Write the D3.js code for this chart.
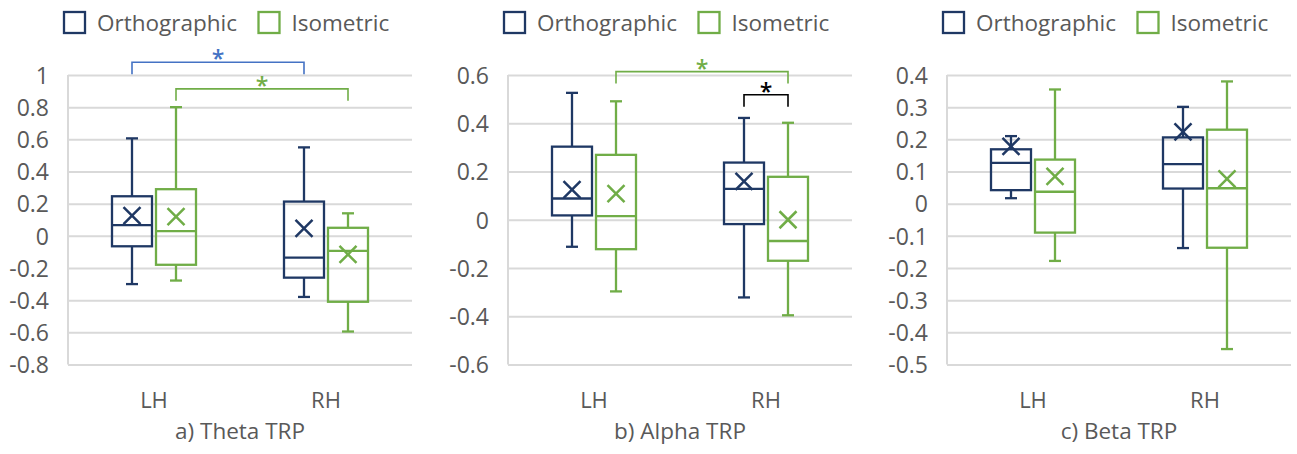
<!DOCTYPE html>
<html>
<head>
<meta charset="utf-8">
<script src="https://cdn.jsdelivr.net/npm/d3@7"></script>
<style>
  html, body { margin: 0; padding: 0; background: #ffffff; }
  svg { display: block; font-family: "Open Sans", "Noto Sans", sans-serif; }
</style>
</head>
<body>
<svg id="chart" width="1297" height="454"></svg>
<script>
// Categories and series shared by all three panels
const categories = ["LH", "RH"];
const seriesNames = ["Orthographic", "Isometric"];

// Box summaries per category (LH, RH): whiskers, quartiles, median and mean
const thetaOrthographic = [
  { low: -0.30, q1: -0.065, median: 0.066, q3: 0.246, high: 0.606, mean: 0.126 },
  { low: -0.38, q1: -0.26, median: -0.135, q3: 0.213, high: 0.55, mean: 0.047 }
];
const thetaIsometric = [
  { low: -0.278, q1: -0.18, median: 0.029, q3: 0.29, high: 0.80, mean: 0.12 },
  { low: -0.595, q1: -0.41, median: -0.093, q3: 0.05, high: 0.14, mean: -0.116 }
];
const alphaOrthographic = [
  { low: -0.112, q1: 0.018, median: 0.088, q3: 0.303, high: 0.526, mean: 0.125 },
  { low: -0.322, q1: -0.018, median: 0.128, q3: 0.237, high: 0.422, mean: 0.159 }
];
const alphaIsometric = [
  { low: -0.297, q1: -0.122, median: 0.015, q3: 0.269, high: 0.491, mean: 0.108 },
  { low: -0.396, q1: -0.17, median: -0.088, q3: 0.178, high: 0.402, mean: 0.0 }
];
const betaOrthographic = [
  { low: 0.017, q1: 0.042, median: 0.127, q3: 0.169, high: 0.21, mean: 0.178 },
  { low: -0.138, q1: 0.047, median: 0.123, q3: 0.206, high: 0.301, mean: 0.223 }
];
const betaIsometric = [
  { low: -0.178, q1: -0.09, median: 0.037, q3: 0.137, high: 0.355, mean: 0.085 },
  { low: -0.452, q1: -0.137, median: 0.048, q3: 0.23, high: 0.38, mean: 0.077 }
];

// Y-axis tick values
const thetaTicks = [-0.8, -0.6, -0.4, -0.2, 0, 0.2, 0.4, 0.6, 0.8, 1];
const alphaTicks = [-0.6, -0.4, -0.2, 0, 0.2, 0.4, 0.6];
const betaTicks = [-0.5, -0.4, -0.3, -0.2, -0.1, 0, 0.1, 0.2, 0.3, 0.4];

// Significance brackets: endpoints (category, series) and bracket height in data units
const thetaBrackets = [
  { from: ["LH", "Orthographic"], to: ["RH", "Orthographic"], level: 1.079, kind: "Orthographic" },
  { from: ["LH", "Isometric"], to: ["RH", "Isometric"], level: 0.914, kind: "Isometric" }
];
const alphaBrackets = [
  { from: ["LH", "Isometric"], to: ["RH", "Isometric"], level: 0.614, kind: "Isometric" },
  { from: ["RH", "Orthographic"], to: ["RH", "Isometric"], level: 0.518, kind: "between" }
];
const betaBrackets = [];

const panelTitles = ["a) Theta TRP", "b) Alpha TRP", "c) Beta TRP"];

// ---- styling / layout ----
const seriesColor = { Orthographic: "#1F3864", Isometric: "#70AD47" };
const bracketColor = { Orthographic: "#4472C4", Isometric: "#70AD47", between: "#000000" };
const textColor = "#595959";
const gridColor = "#D9D9D9";

const plotLefts = [68, 508, 947];
const plotWidth = 344;
const plotTop = 75;
const plotBottom = 364.5;

const panels = [
  { title: panelTitles[0], data: { Orthographic: thetaOrthographic, Isometric: thetaIsometric }, ticks: thetaTicks, brackets: thetaBrackets },
  { title: panelTitles[1], data: { Orthographic: alphaOrthographic, Isometric: alphaIsometric }, ticks: alphaTicks, brackets: alphaBrackets },
  { title: panelTitles[2], data: { Orthographic: betaOrthographic, Isometric: betaIsometric }, ticks: betaTicks, brackets: betaBrackets }
];

const fmt = v => String(+v.toFixed(1));
const svg = d3.select("#chart");

panels.forEach((p, i) => {
  const left = plotLefts[i];
  const right = left + plotWidth;
  const cx = (left + right) / 2;
  const g = svg.append("g");

  const y = d3.scaleLinear()
    .domain([d3.min(p.ticks), d3.max(p.ticks)])
    .range([plotBottom, plotTop]);
  const x = d3.scaleBand().domain(categories).range([left, right]);
  const xs = d3.scaleBand().domain(seriesNames).range([-42, 42]).paddingInner(4 / 44);

  // Gridlines and tick labels
  const yAxis = g.append("g")
    .attr("transform", `translate(${left},0)`)
    .call(d3.axisLeft(y).tickValues(p.ticks).tickSize(-plotWidth).tickPadding(19).tickFormat(fmt));
  yAxis.select(".domain").remove();
  yAxis.selectAll(".tick line").attr("stroke", gridColor).attr("stroke-width", 2);
  yAxis.selectAll(".tick text")
    .attr("fill", textColor).attr("font-size", 23).attr("font-family", "Open Sans")
    .attr("dy", "0.36em");
  // left axis line
  g.append("line")
    .attr("x1", left).attr("x2", left).attr("y1", plotTop).attr("y2", plotBottom)
    .attr("stroke", gridColor).attr("stroke-width", 2);

  // Category labels
  const xAxis = g.append("g")
    .attr("transform", `translate(0,${plotBottom})`)
    .call(d3.axisBottom(x).tickSize(0).tickPadding(28));
  xAxis.select(".domain").remove();
  xAxis.selectAll(".tick text")
    .attr("fill", textColor).attr("font-size", 22).attr("font-family", "Open Sans");

  // Panel title
  g.append("text")
    .attr("x", cx).attr("y", 439)
    .attr("text-anchor", "middle")
    .attr("fill", textColor).attr("font-size", 22.5)
    .text(p.title);

  // Box plots
  const boxW = xs.bandwidth();
  const capW = 12;
  const xMark = 8.5;
  seriesNames.forEach(s => {
    const col = seriesColor[s];
    p.data[s].forEach((d, ci) => {
      const bx = x(categories[ci]) + x.bandwidth() / 2 + xs(s);
      const mx = bx + boxW / 2;
      const bg = g.append("g").attr("stroke", col).attr("stroke-width", 2.3).attr("fill", "none");
      // whiskers
      bg.append("line").attr("x1", mx).attr("x2", mx).attr("y1", y(d.high)).attr("y2", y(d.q3));
      bg.append("line").attr("x1", mx).attr("x2", mx).attr("y1", y(d.q1)).attr("y2", y(d.low));
      bg.append("line").attr("x1", mx - capW / 2).attr("x2", mx + capW / 2).attr("y1", y(d.high)).attr("y2", y(d.high));
      bg.append("line").attr("x1", mx - capW / 2).attr("x2", mx + capW / 2).attr("y1", y(d.low)).attr("y2", y(d.low));
      // box
      bg.append("rect").attr("x", bx).attr("y", y(d.q3))
        .attr("width", boxW).attr("height", y(d.q1) - y(d.q3));
      // median
      bg.append("line").attr("x1", bx).attr("x2", bx + boxW).attr("y1", y(d.median)).attr("y2", y(d.median));
      // mean marker
      const my = y(d.mean);
      bg.append("path")
        .attr("stroke-width", 2.5)
        .attr("d", `M${mx - xMark},${my - xMark}L${mx + xMark},${my + xMark}M${mx - xMark},${my + xMark}L${mx + xMark},${my - xMark}`);
    });
  });

  // Significance brackets
  const legLen = 12;
  p.brackets.forEach(b => {
    const x1 = x(b.from[0]) + x.bandwidth() / 2 + xs(b.from[1]) + boxW / 2;
    const x2 = x(b.to[0]) + x.bandwidth() / 2 + xs(b.to[1]) + boxW / 2;
    const yt = y(b.level);
    const col = bracketColor[b.kind];
    g.append("path")
      .attr("fill", "none").attr("stroke", col).attr("stroke-width", 1.6)
      .attr("d", `M${x1},${yt + legLen}V${yt}H${x2}V${yt + legLen}`);
    g.append("text")
      .attr("x", (x1 + x2) / 2).attr("y", yt + 5)
      .attr("text-anchor", "middle")
      .attr("fill", col).attr("font-size", 23).attr("font-weight", 600)
      .text("*");
  });

  // Legend
  const legendOffsets = [-176, 18.5];
  seriesNames.forEach((s, si) => {
    const lx = cx + legendOffsets[si];
    g.append("rect")
      .attr("x", lx).attr("y", 12).attr("width", 21).attr("height", 21)
      .attr("fill", "none").attr("stroke", seriesColor[s]).attr("stroke-width", 2.3);
    g.append("text")
      .attr("x", lx + 33).attr("y", 31)
      .attr("fill", textColor).attr("font-size", 22.5)
      .text(s);
  });
});
</script>
</body>
</html>
